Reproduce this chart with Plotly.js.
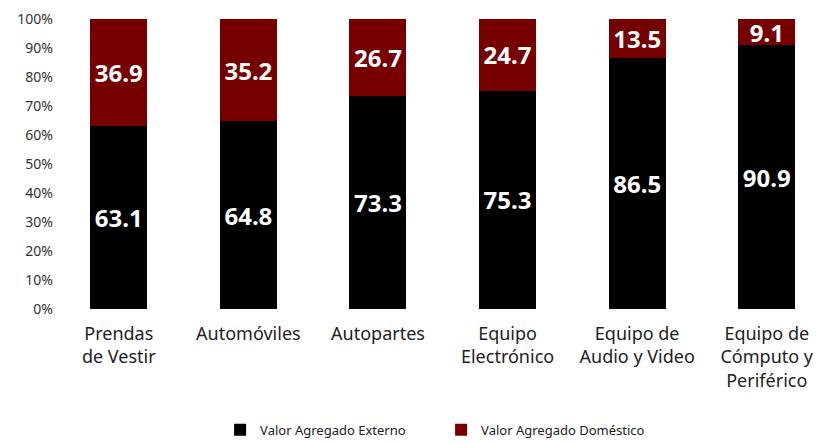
<!DOCTYPE html>
<html><head><meta charset="utf-8">
<script src="https://cdn.plot.ly/plotly-3.0.1.min.js"></script>
<style>body{margin:0;background:#fff}#c{width:816px;height:443px}</style>
</head><body><div id="c"></div>
<script>
var categories = ["Prendas<br>de Vestir","Automóviles","Autopartes","Equipo<br>Electrónico","Equipo de<br>Audio y Video","Equipo de<br>Cómputo y<br>Periférico"];
var externo = [63.1, 64.8, 73.3, 75.3, 86.5, 90.9];
var domestico = [36.9, 35.2, 26.7, 24.7, 13.5, 9.1];
var yTicks = [0,10,20,30,40,50,60,70,80,90,100];
var yTickLabels = yTicks.map(function(v){return v + "%";});
var xIdx = categories.map(function(_, i){return i;});
var tf = {family:"Noto Sans, sans-serif", size:24, color:"#ffffff", weight:"bold"};
var traces = [
 {type:"bar", name:"Valor Agregado Externo", x:xIdx, y:externo, marker:{color:"#000000"},
  text:externo.map(function(v){return v.toFixed(1);}), textposition:"inside", insidetextanchor:"middle",
  constraintext:"none", textfont:tf, hoverinfo:"none"},
 {type:"bar", name:"Valor Agregado Doméstico", x:xIdx, y:domestico, marker:{color:"#760000"},
  text:domestico.map(function(v){return v.toFixed(1);}), textposition:"inside", insidetextanchor:"middle",
  constraintext:"none", textfont:tf, hoverinfo:"none", cliponaxis:false}
];
var layout = {
 width:816, height:443, barmode:"stack", bargap:0.56,
 margin:{l:54, r:0, t:19, b:134, autoexpand:false},
 paper_bgcolor:"#fff", plot_bgcolor:"#fff",
 font:{family:"Noto Sans, sans-serif", color:"#222"},
 xaxis:{range:[-0.5,5.38], tickvals:xIdx, ticktext:categories, showgrid:false, zeroline:false, showline:false,
  tickfont:{size:18, color:"#222"}, ticks:"", ticklabelstandoff:12, fixedrange:true, automargin:false},
 yaxis:{range:[0,100], tickvals:yTicks, ticktext:yTickLabels, showgrid:false, zeroline:false, showline:false,
  tickfont:{size:14, color:"#333"}, ticks:"", fixedrange:true, automargin:false},
 showlegend:true,
 legend:{orientation:"h", x:0.508, xanchor:"center", y:-0.365, yanchor:"top", font:{size:13, color:"#222"}, traceorder:"normal", entrywidth:176},
 uniformtext:{mode:false}
};
Plotly.newPlot("c", traces, layout, {displayModeBar:false, staticPlot:true});
</script></body></html>
